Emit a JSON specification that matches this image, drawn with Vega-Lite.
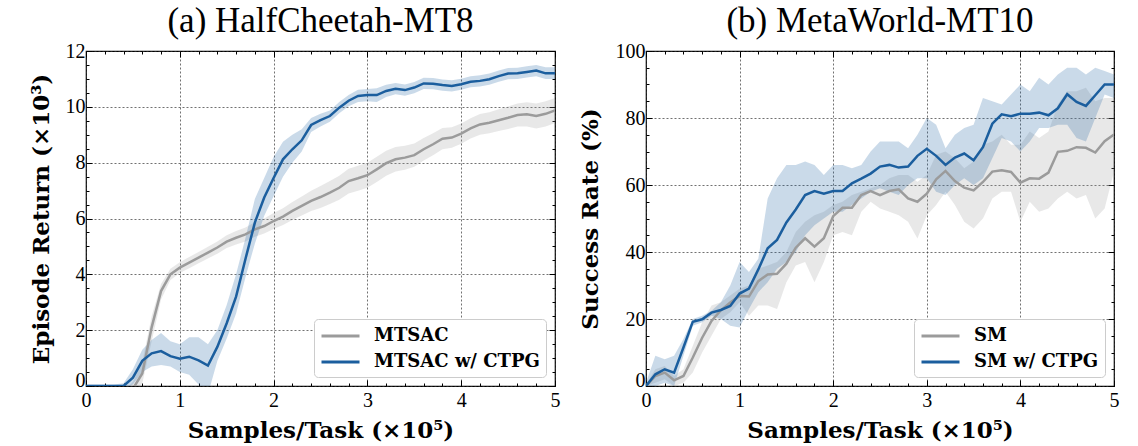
{
"$schema": "https://vega.github.io/schema/vega-lite/v6.json",
"background": "white",
"padding": {"left": 29, "top": 3, "right": 5, "bottom": 0},
"bounds": "flush",
"spacing": 91,
"config": {
  "view": {"stroke": "black", "strokeWidth": 1.2},
  "axis": {"labelFont": "Liberation Serif", "labelFontSize": 20, "labelColor": "black", "titleFont": "DejaVu Serif", "titleFontWeight": "bold", "titleFontSize": 23, "titleColor": "black", "domain": false, "tickColor": "black", "tickWidth": 1, "gridColor": "#333333", "gridDash": [2, 2], "gridWidth": 0.7, "labelOverlap": false, "labelBound": false, "labelFlush": false},
  "legend": {"orient": "bottom-right", "offset": 9, "fillColor": "white", "strokeColor": "#cccccc", "cornerRadius": 4, "padding": 6, "labelFont": "DejaVu Serif", "labelFontWeight": "bold", "labelFontSize": 18, "labelColor": "black", "labelLimit": 400, "symbolType": "M-1,0H3", "symbolSize": 361, "symbolStrokeWidth": 3, "labelOffset": 32, "rowPadding": 6}
},
"resolve": {"scale": {"color": "independent"}, "legend": {"color": "independent"}},
"hconcat": [
{
  "width": 469, "height": 335,
  "title": {"text": "(a) HalfCheetah-MT8", "font": "Liberation Serif", "fontSize": 35, "fontWeight": "normal", "color": "black", "offset": 2, "anchor": "middle", "frame": "group"},
  "data": {"values": [
{"s":"MTSAC","x":0,"m":-0.5,"lo":-0.7,"hi":-0.3},
{"s":"MTSAC","x":0.1,"m":-0.5,"lo":-0.7,"hi":-0.3},
{"s":"MTSAC","x":0.2,"m":-0.5,"lo":-0.7,"hi":-0.3},
{"s":"MTSAC","x":0.3,"m":-0.5,"lo":-0.7,"hi":-0.3},
{"s":"MTSAC","x":0.4,"m":-0.45,"lo":-0.65,"hi":-0.2},
{"s":"MTSAC","x":0.5,"m":-0.1,"lo":-0.35,"hi":0.15},
{"s":"MTSAC","x":0.6,"m":0.45,"lo":0.1,"hi":0.85},
{"s":"MTSAC","x":0.7,"m":2.1,"lo":1.6,"hi":2.5},
{"s":"MTSAC","x":0.8,"m":3.4,"lo":3.1,"hi":3.65},
{"s":"MTSAC","x":0.9,"m":4.0,"lo":3.8,"hi":4.2},
{"s":"MTSAC","x":1.0,"m":4.24,"lo":4.05,"hi":4.43},
{"s":"MTSAC","x":1.1,"m":4.42,"lo":4.22,"hi":4.62},
{"s":"MTSAC","x":1.2,"m":4.6,"lo":4.4,"hi":4.8},
{"s":"MTSAC","x":1.3,"m":4.78,"lo":4.57,"hi":4.99},
{"s":"MTSAC","x":1.4,"m":4.96,"lo":4.74,"hi":5.18},
{"s":"MTSAC","x":1.5,"m":5.17,"lo":4.94,"hi":5.4},
{"s":"MTSAC","x":1.6,"m":5.31,"lo":5.07,"hi":5.55},
{"s":"MTSAC","x":1.7,"m":5.43,"lo":5.18,"hi":5.68},
{"s":"MTSAC","x":1.8,"m":5.61,"lo":5.35,"hi":5.87},
{"s":"MTSAC","x":1.9,"m":5.73,"lo":5.46,"hi":6.0},
{"s":"MTSAC","x":2.0,"m":5.91,"lo":5.62,"hi":6.2},
{"s":"MTSAC","x":2.1,"m":6.07,"lo":5.77,"hi":6.37},
{"s":"MTSAC","x":2.2,"m":6.27,"lo":5.95,"hi":6.59},
{"s":"MTSAC","x":2.3,"m":6.45,"lo":6.11,"hi":6.79},
{"s":"MTSAC","x":2.4,"m":6.63,"lo":6.27,"hi":6.99},
{"s":"MTSAC","x":2.5,"m":6.77,"lo":6.38,"hi":7.16},
{"s":"MTSAC","x":2.6,"m":6.93,"lo":6.52,"hi":7.34},
{"s":"MTSAC","x":2.7,"m":7.1,"lo":6.67,"hi":7.53},
{"s":"MTSAC","x":2.8,"m":7.34,"lo":6.9,"hi":7.78},
{"s":"MTSAC","x":2.9,"m":7.44,"lo":6.99,"hi":7.89},
{"s":"MTSAC","x":3.0,"m":7.55,"lo":7.1,"hi":8.0},
{"s":"MTSAC","x":3.1,"m":7.76,"lo":7.31,"hi":8.21},
{"s":"MTSAC","x":3.2,"m":7.98,"lo":7.53,"hi":8.43},
{"s":"MTSAC","x":3.3,"m":8.12,"lo":7.68,"hi":8.56},
{"s":"MTSAC","x":3.4,"m":8.18,"lo":7.75,"hi":8.61},
{"s":"MTSAC","x":3.5,"m":8.27,"lo":7.85,"hi":8.69},
{"s":"MTSAC","x":3.6,"m":8.48,"lo":8.08,"hi":8.88},
{"s":"MTSAC","x":3.7,"m":8.66,"lo":8.27,"hi":9.05},
{"s":"MTSAC","x":3.8,"m":8.86,"lo":8.48,"hi":9.24},
{"s":"MTSAC","x":3.9,"m":8.9,"lo":8.53,"hi":9.27},
{"s":"MTSAC","x":4.0,"m":9.04,"lo":8.68,"hi":9.4},
{"s":"MTSAC","x":4.1,"m":9.23,"lo":8.87,"hi":9.59},
{"s":"MTSAC","x":4.2,"m":9.37,"lo":9.0,"hi":9.74},
{"s":"MTSAC","x":4.3,"m":9.43,"lo":9.05,"hi":9.81},
{"s":"MTSAC","x":4.4,"m":9.52,"lo":9.13,"hi":9.91},
{"s":"MTSAC","x":4.5,"m":9.61,"lo":9.21,"hi":10.01},
{"s":"MTSAC","x":4.6,"m":9.71,"lo":9.3,"hi":10.12},
{"s":"MTSAC","x":4.7,"m":9.73,"lo":9.3,"hi":10.16},
{"s":"MTSAC","x":4.8,"m":9.67,"lo":9.22,"hi":10.12},
{"s":"MTSAC","x":4.9,"m":9.75,"lo":9.3,"hi":10.2},
{"s":"MTSAC","x":5.0,"m":9.87,"lo":9.42,"hi":10.32},
{"s":"MTSAC w/ CTPG","x":0,"m":0,"lo":-0.05,"hi":0.05},
{"s":"MTSAC w/ CTPG","x":0.1,"m":0,"lo":-0.05,"hi":0.05},
{"s":"MTSAC w/ CTPG","x":0.2,"m":0,"lo":-0.05,"hi":0.05},
{"s":"MTSAC w/ CTPG","x":0.3,"m":0,"lo":-0.05,"hi":0.05},
{"s":"MTSAC w/ CTPG","x":0.4,"m":0,"lo":-0.1,"hi":0.1},
{"s":"MTSAC w/ CTPG","x":0.5,"m":0.3,"lo":0.05,"hi":0.6},
{"s":"MTSAC w/ CTPG","x":0.6,"m":0.9,"lo":0.5,"hi":1.3},
{"s":"MTSAC w/ CTPG","x":0.7,"m":1.17,"lo":0.7,"hi":1.65},
{"s":"MTSAC w/ CTPG","x":0.8,"m":1.25,"lo":0.75,"hi":1.9},
{"s":"MTSAC w/ CTPG","x":0.9,"m":1.07,"lo":0.7,"hi":1.6},
{"s":"MTSAC w/ CTPG","x":1.0,"m":0.98,"lo":0.5,"hi":1.5},
{"s":"MTSAC w/ CTPG","x":1.1,"m":1.05,"lo":0.4,"hi":1.75},
{"s":"MTSAC w/ CTPG","x":1.2,"m":0.92,"lo":0.05,"hi":1.75},
{"s":"MTSAC w/ CTPG","x":1.3,"m":0.73,"lo":-0.3,"hi":1.5},
{"s":"MTSAC w/ CTPG","x":1.4,"m":1.4,"lo":0.9,"hi":2.0},
{"s":"MTSAC w/ CTPG","x":1.5,"m":2.25,"lo":1.7,"hi":2.9},
{"s":"MTSAC w/ CTPG","x":1.6,"m":3.2,"lo":2.6,"hi":4.0},
{"s":"MTSAC w/ CTPG","x":1.7,"m":4.55,"lo":3.9,"hi":5.3},
{"s":"MTSAC w/ CTPG","x":1.8,"m":5.85,"lo":5.1,"hi":6.7},
{"s":"MTSAC w/ CTPG","x":1.9,"m":6.75,"lo":6.1,"hi":7.45},
{"s":"MTSAC w/ CTPG","x":2.0,"m":7.45,"lo":6.8,"hi":8.2},
{"s":"MTSAC w/ CTPG","x":2.1,"m":8.12,"lo":7.5,"hi":8.75},
{"s":"MTSAC w/ CTPG","x":2.2,"m":8.48,"lo":8.0,"hi":9.0},
{"s":"MTSAC w/ CTPG","x":2.3,"m":8.8,"lo":8.4,"hi":9.2},
{"s":"MTSAC w/ CTPG","x":2.4,"m":9.35,"lo":9.1,"hi":9.6},
{"s":"MTSAC w/ CTPG","x":2.5,"m":9.52,"lo":9.3,"hi":9.75},
{"s":"MTSAC w/ CTPG","x":2.6,"m":9.67,"lo":9.47,"hi":9.87},
{"s":"MTSAC w/ CTPG","x":2.7,"m":9.97,"lo":9.77,"hi":10.17},
{"s":"MTSAC w/ CTPG","x":2.8,"m":10.22,"lo":10.02,"hi":10.42},
{"s":"MTSAC w/ CTPG","x":2.9,"m":10.39,"lo":10.17,"hi":10.61},
{"s":"MTSAC w/ CTPG","x":3.0,"m":10.42,"lo":10.2,"hi":10.64},
{"s":"MTSAC w/ CTPG","x":3.1,"m":10.42,"lo":10.17,"hi":10.67},
{"s":"MTSAC w/ CTPG","x":3.2,"m":10.57,"lo":10.35,"hi":10.79},
{"s":"MTSAC w/ CTPG","x":3.3,"m":10.65,"lo":10.45,"hi":10.85},
{"s":"MTSAC w/ CTPG","x":3.4,"m":10.6,"lo":10.4,"hi":10.8},
{"s":"MTSAC w/ CTPG","x":3.5,"m":10.69,"lo":10.49,"hi":10.89},
{"s":"MTSAC w/ CTPG","x":3.6,"m":10.84,"lo":10.64,"hi":11.04},
{"s":"MTSAC w/ CTPG","x":3.7,"m":10.83,"lo":10.63,"hi":11.03},
{"s":"MTSAC w/ CTPG","x":3.8,"m":10.78,"lo":10.58,"hi":10.98},
{"s":"MTSAC w/ CTPG","x":3.9,"m":10.75,"lo":10.55,"hi":10.95},
{"s":"MTSAC w/ CTPG","x":4.0,"m":10.81,"lo":10.61,"hi":11.01},
{"s":"MTSAC w/ CTPG","x":4.1,"m":10.9,"lo":10.7,"hi":11.1},
{"s":"MTSAC w/ CTPG","x":4.2,"m":10.93,"lo":10.73,"hi":11.13},
{"s":"MTSAC w/ CTPG","x":4.3,"m":10.99,"lo":10.79,"hi":11.19},
{"s":"MTSAC w/ CTPG","x":4.4,"m":11.1,"lo":10.9,"hi":11.3},
{"s":"MTSAC w/ CTPG","x":4.5,"m":11.19,"lo":10.99,"hi":11.39},
{"s":"MTSAC w/ CTPG","x":4.6,"m":11.2,"lo":11.0,"hi":11.4},
{"s":"MTSAC w/ CTPG","x":4.7,"m":11.25,"lo":11.05,"hi":11.45},
{"s":"MTSAC w/ CTPG","x":4.8,"m":11.3,"lo":11.1,"hi":11.5},
{"s":"MTSAC w/ CTPG","x":4.9,"m":11.2,"lo":11.0,"hi":11.42},
{"s":"MTSAC w/ CTPG","x":5.0,"m":11.2,"lo":11.0,"hi":11.42}
  ]},
  "layer": [
    {"mark": {"type": "area", "clip": true, "fillOpacity": 0.23},
     "encoding": {
       "x": {"field": "x", "type": "quantitative", "scale": {"domain": [0, 5], "nice": false},
         "axis": {"orient": "bottom", "title": "Samples/Task (×10⁵)", "titlePadding": 6,
           "values": [0,0.2,0.4,0.6,0.8,1,1.2,1.4,1.6,1.8,2,2.2,2.4,2.6,2.8,3,3.2,3.4,3.6,3.8,4,4.2,4.4,4.6,4.8,5],
           "labelExpr": "abs(datum.value-round(datum.value))<0.01 ? format(datum.value, 'd') : ''",
           "tickSize": {"condition": {"test": "abs(datum.value-round(datum.value))<0.01", "value": -6}, "value": -3},
           "grid": true,
           "gridOpacity": {"condition": {"test": "abs(datum.value-round(datum.value))<0.01", "value": 1}, "value": 0},
           "labelPadding": 10}},
       "y": {"field": "lo", "type": "quantitative", "scale": {"domain": [0, 12], "nice": false},
         "axis": {"orient": "left", "title": "Episode Return (×10³)", "titlePadding": 12,
           "values": [0,0.5,1,1.5,2,2.5,3,3.5,4,4.5,5,5.5,6,6.5,7,7.5,8,8.5,9,9.5,10,10.5,11,11.5,12],
           "labelExpr": "datum.value % 2 === 0 ? format(datum.value, 'd') : ''",
           "labelOffset": {"condition": {"test": "datum.value === 0", "value": -6}, "value": 0},
           "tickSize": {"condition": {"test": "datum.value % 2 === 0", "value": -6}, "value": -3},
           "grid": true,
           "gridOpacity": {"condition": {"test": "datum.value % 2 === 0", "value": 1}, "value": 0},
           "labelPadding": 7}},
       "y2": {"field": "hi"},
       "color": {"field": "s", "type": "nominal", "scale": {"domain": ["MTSAC", "MTSAC w/ CTPG"], "range": ["#9b9b9b", "#1b5e9e"]}, "legend": {"title": null}}
     }},
    {"mark": {"type": "line", "clip": true, "strokeWidth": 2.5},
     "encoding": {
       "x": {"field": "x", "type": "quantitative",
         "axis": {"orient": "top", "title": null, "labels": false, "grid": false,
           "values": [0,0.2,0.4,0.6,0.8,1,1.2,1.4,1.6,1.8,2,2.2,2.4,2.6,2.8,3,3.2,3.4,3.6,3.8,4,4.2,4.4,4.6,4.8,5],
           "tickSize": {"condition": {"test": "abs(datum.value-round(datum.value))<0.01", "value": -6}, "value": -3}}},
       "y": {"field": "m", "type": "quantitative",
         "axis": {"orient": "right", "title": null, "labels": false, "grid": false,
           "values": [0,0.5,1,1.5,2,2.5,3,3.5,4,4.5,5,5.5,6,6.5,7,7.5,8,8.5,9,9.5,10,10.5,11,11.5,12],
           "tickSize": {"condition": {"test": "datum.value % 2 === 0", "value": -6}, "value": -3}}},
       "color": {"field": "s", "type": "nominal", "legend": {"title": null}}
     }}
  ],
  "resolve": {"axis": {"x": "independent", "y": "independent"}}
},
{
  "width": 468, "height": 335,
  "title": {"text": "(b) MetaWorld-MT10", "font": "Liberation Serif", "fontSize": 35, "fontWeight": "normal", "color": "black", "offset": 2, "anchor": "middle", "frame": "group"},
  "data": {"values": [
{"s":"SM","x":0,"m":0,"lo":0,"hi":0.5},
{"s":"SM","x":0.1,"m":3.0,"lo":1,"hi":5},
{"s":"SM","x":0.2,"m":4.0,"lo":2,"hi":6},
{"s":"SM","x":0.3,"m":1.7,"lo":0,"hi":3},
{"s":"SM","x":0.4,"m":3.0,"lo":1,"hi":5},
{"s":"SM","x":0.5,"m":8.5,"lo":4,"hi":12},
{"s":"SM","x":0.6,"m":14.4,"lo":10,"hi":19},
{"s":"SM","x":0.7,"m":19.4,"lo":15,"hi":24},
{"s":"SM","x":0.8,"m":22.6,"lo":20,"hi":25},
{"s":"SM","x":0.9,"m":24.9,"lo":22,"hi":27},
{"s":"SM","x":1.0,"m":26.9,"lo":25,"hi":29},
{"s":"SM","x":1.1,"m":26.7,"lo":21,"hi":30},
{"s":"SM","x":1.2,"m":31.3,"lo":24,"hi":35},
{"s":"SM","x":1.3,"m":33.3,"lo":24,"hi":36},
{"s":"SM","x":1.4,"m":33.5,"lo":23,"hi":37},
{"s":"SM","x":1.5,"m":36.5,"lo":31,"hi":40},
{"s":"SM","x":1.6,"m":41.3,"lo":36,"hi":46},
{"s":"SM","x":1.7,"m":44.1,"lo":37,"hi":49},
{"s":"SM","x":1.8,"m":41.6,"lo":31,"hi":51},
{"s":"SM","x":1.9,"m":44.1,"lo":37,"hi":52},
{"s":"SM","x":2.0,"m":50.7,"lo":45,"hi":54},
{"s":"SM","x":2.1,"m":53.2,"lo":46,"hi":55},
{"s":"SM","x":2.2,"m":53.2,"lo":45,"hi":57},
{"s":"SM","x":2.3,"m":57.0,"lo":52,"hi":58},
{"s":"SM","x":2.4,"m":58.2,"lo":55,"hi":59},
{"s":"SM","x":2.5,"m":57.0,"lo":53,"hi":60},
{"s":"SM","x":2.6,"m":58.2,"lo":52,"hi":62},
{"s":"SM","x":2.7,"m":58.7,"lo":51,"hi":63},
{"s":"SM","x":2.8,"m":56.0,"lo":49,"hi":63},
{"s":"SM","x":2.9,"m":55.0,"lo":44,"hi":61},
{"s":"SM","x":3.0,"m":57.4,"lo":51,"hi":63},
{"s":"SM","x":3.1,"m":61.7,"lo":54,"hi":69},
{"s":"SM","x":3.2,"m":64.2,"lo":58,"hi":70},
{"s":"SM","x":3.3,"m":61.2,"lo":54,"hi":68},
{"s":"SM","x":3.4,"m":59.2,"lo":49,"hi":65},
{"s":"SM","x":3.5,"m":58.4,"lo":47,"hi":67},
{"s":"SM","x":3.6,"m":60.9,"lo":50,"hi":72},
{"s":"SM","x":3.7,"m":64.0,"lo":56,"hi":73},
{"s":"SM","x":3.8,"m":64.4,"lo":58,"hi":75},
{"s":"SM","x":3.9,"m":63.9,"lo":58,"hi":72},
{"s":"SM","x":4.0,"m":60.7,"lo":49,"hi":72},
{"s":"SM","x":4.1,"m":62.0,"lo":55,"hi":76},
{"s":"SM","x":4.2,"m":61.9,"lo":52,"hi":74},
{"s":"SM","x":4.3,"m":63.7,"lo":53,"hi":76},
{"s":"SM","x":4.4,"m":69.9,"lo":56,"hi":84},
{"s":"SM","x":4.5,"m":70.2,"lo":58,"hi":88},
{"s":"SM","x":4.6,"m":71.3,"lo":56,"hi":88},
{"s":"SM","x":4.7,"m":71.1,"lo":57,"hi":89},
{"s":"SM","x":4.8,"m":69.7,"lo":50,"hi":85},
{"s":"SM","x":4.9,"m":73.1,"lo":53,"hi":86},
{"s":"SM","x":5.0,"m":75.1,"lo":64,"hi":86},
{"s":"SM w/ CTPG","x":0,"m":0,"lo":0,"hi":1},
{"s":"SM w/ CTPG","x":0.1,"m":3.5,"lo":0,"hi":9},
{"s":"SM w/ CTPG","x":0.2,"m":5,"lo":1,"hi":8},
{"s":"SM w/ CTPG","x":0.3,"m":4,"lo":0,"hi":9},
{"s":"SM w/ CTPG","x":0.4,"m":11.5,"lo":9,"hi":14},
{"s":"SM w/ CTPG","x":0.5,"m":19.2,"lo":18,"hi":20},
{"s":"SM w/ CTPG","x":0.6,"m":19.9,"lo":19,"hi":21},
{"s":"SM w/ CTPG","x":0.7,"m":21.9,"lo":21,"hi":22.5},
{"s":"SM w/ CTPG","x":0.8,"m":22.7,"lo":20,"hi":25},
{"s":"SM w/ CTPG","x":0.9,"m":23.9,"lo":18,"hi":30},
{"s":"SM w/ CTPG","x":1.0,"m":27.6,"lo":17.5,"hi":37},
{"s":"SM w/ CTPG","x":1.1,"m":29.1,"lo":23,"hi":34},
{"s":"SM w/ CTPG","x":1.2,"m":34.8,"lo":28,"hi":38},
{"s":"SM w/ CTPG","x":1.3,"m":41.1,"lo":31,"hi":56},
{"s":"SM w/ CTPG","x":1.4,"m":43.6,"lo":35,"hi":62},
{"s":"SM w/ CTPG","x":1.5,"m":48.8,"lo":37,"hi":66},
{"s":"SM w/ CTPG","x":1.6,"m":52.7,"lo":40,"hi":66},
{"s":"SM w/ CTPG","x":1.7,"m":57.0,"lo":45,"hi":67},
{"s":"SM w/ CTPG","x":1.8,"m":58.2,"lo":48,"hi":66},
{"s":"SM w/ CTPG","x":1.9,"m":57.4,"lo":50,"hi":63},
{"s":"SM w/ CTPG","x":2.0,"m":58.2,"lo":52,"hi":66},
{"s":"SM w/ CTPG","x":2.1,"m":58.2,"lo":52,"hi":66},
{"s":"SM w/ CTPG","x":2.2,"m":60.5,"lo":54,"hi":65},
{"s":"SM w/ CTPG","x":2.3,"m":61.9,"lo":56,"hi":66},
{"s":"SM w/ CTPG","x":2.4,"m":63.4,"lo":58,"hi":70},
{"s":"SM w/ CTPG","x":2.5,"m":65.5,"lo":59,"hi":73},
{"s":"SM w/ CTPG","x":2.6,"m":66.0,"lo":58,"hi":73},
{"s":"SM w/ CTPG","x":2.7,"m":65.2,"lo":57,"hi":73},
{"s":"SM w/ CTPG","x":2.8,"m":65.5,"lo":60,"hi":71},
{"s":"SM w/ CTPG","x":2.9,"m":68.7,"lo":62,"hi":75},
{"s":"SM w/ CTPG","x":3.0,"m":70.8,"lo":62,"hi":80},
{"s":"SM w/ CTPG","x":3.1,"m":68.7,"lo":58,"hi":78},
{"s":"SM w/ CTPG","x":3.2,"m":66.0,"lo":57,"hi":71},
{"s":"SM w/ CTPG","x":3.3,"m":68.2,"lo":60,"hi":75},
{"s":"SM w/ CTPG","x":3.4,"m":69.4,"lo":62,"hi":77},
{"s":"SM w/ CTPG","x":3.5,"m":67.4,"lo":60,"hi":78},
{"s":"SM w/ CTPG","x":3.6,"m":71.3,"lo":62,"hi":86},
{"s":"SM w/ CTPG","x":3.7,"m":78.3,"lo":68,"hi":85},
{"s":"SM w/ CTPG","x":3.8,"m":81.1,"lo":74,"hi":84},
{"s":"SM w/ CTPG","x":3.9,"m":80.5,"lo":73,"hi":87},
{"s":"SM w/ CTPG","x":4.0,"m":81.3,"lo":70,"hi":90},
{"s":"SM w/ CTPG","x":4.1,"m":81.3,"lo":73,"hi":88},
{"s":"SM w/ CTPG","x":4.2,"m":81.6,"lo":77,"hi":92},
{"s":"SM w/ CTPG","x":4.3,"m":80.8,"lo":77,"hi":90},
{"s":"SM w/ CTPG","x":4.4,"m":82.9,"lo":78,"hi":93},
{"s":"SM w/ CTPG","x":4.5,"m":87.1,"lo":78,"hi":95},
{"s":"SM w/ CTPG","x":4.6,"m":84.8,"lo":74,"hi":95},
{"s":"SM w/ CTPG","x":4.7,"m":83.6,"lo":73,"hi":93},
{"s":"SM w/ CTPG","x":4.8,"m":86.8,"lo":80,"hi":95},
{"s":"SM w/ CTPG","x":4.9,"m":90.0,"lo":87,"hi":94},
{"s":"SM w/ CTPG","x":5.0,"m":90.0,"lo":86,"hi":93}
  ]},
  "layer": [
    {"mark": {"type": "area", "clip": true, "fillOpacity": 0.23},
     "encoding": {
       "x": {"field": "x", "type": "quantitative", "scale": {"domain": [0, 5], "nice": false},
         "axis": {"orient": "bottom", "title": "Samples/Task (×10⁵)", "titlePadding": 6,
           "values": [0,0.2,0.4,0.6,0.8,1,1.2,1.4,1.6,1.8,2,2.2,2.4,2.6,2.8,3,3.2,3.4,3.6,3.8,4,4.2,4.4,4.6,4.8,5],
           "labelExpr": "abs(datum.value-round(datum.value))<0.01 ? format(datum.value, 'd') : ''",
           "tickSize": {"condition": {"test": "abs(datum.value-round(datum.value))<0.01", "value": -6}, "value": -3},
           "grid": true,
           "gridOpacity": {"condition": {"test": "abs(datum.value-round(datum.value))<0.01", "value": 1}, "value": 0},
           "labelPadding": 10}},
       "y": {"field": "lo", "type": "quantitative", "scale": {"domain": [0, 100], "nice": false},
         "axis": {"orient": "left", "title": "Success Rate (%)", "titlePadding": 13,
           "values": [0,5,10,15,20,25,30,35,40,45,50,55,60,65,70,75,80,85,90,95,100],
           "labelExpr": "datum.value % 20 === 0 ? format(datum.value, 'd') : ''",
           "labelOffset": {"condition": {"test": "datum.value === 0", "value": -6}, "value": 0},
           "tickSize": {"condition": {"test": "datum.value % 20 === 0", "value": -6}, "value": -3},
           "grid": true,
           "gridOpacity": {"condition": {"test": "datum.value % 20 === 0", "value": 1}, "value": 0},
           "labelPadding": 7}},
       "y2": {"field": "hi"},
       "color": {"field": "s", "type": "nominal", "scale": {"domain": ["SM", "SM w/ CTPG"], "range": ["#9b9b9b", "#1b5e9e"]}, "legend": {"title": null}}
     }},
    {"mark": {"type": "line", "clip": true, "strokeWidth": 2.5},
     "encoding": {
       "x": {"field": "x", "type": "quantitative",
         "axis": {"orient": "top", "title": null, "labels": false, "grid": false,
           "values": [0,0.2,0.4,0.6,0.8,1,1.2,1.4,1.6,1.8,2,2.2,2.4,2.6,2.8,3,3.2,3.4,3.6,3.8,4,4.2,4.4,4.6,4.8,5],
           "tickSize": {"condition": {"test": "abs(datum.value-round(datum.value))<0.01", "value": -6}, "value": -3}}},
       "y": {"field": "m", "type": "quantitative",
         "axis": {"orient": "right", "title": null, "labels": false, "grid": false,
           "values": [0,5,10,15,20,25,30,35,40,45,50,55,60,65,70,75,80,85,90,95,100],
           "tickSize": {"condition": {"test": "datum.value % 20 === 0", "value": -6}, "value": -3}}},
       "color": {"field": "s", "type": "nominal", "legend": {"title": null}}
     }}
  ],
  "resolve": {"axis": {"x": "independent", "y": "independent"}}
}
]
}
